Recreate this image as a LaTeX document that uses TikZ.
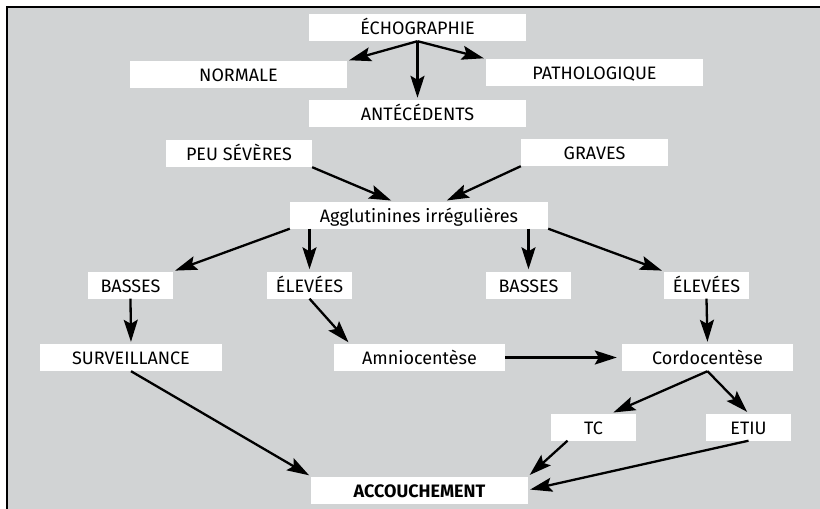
\documentclass[tikz,border=0pt]{standalone}
\usepackage{fontspec}
\setmainfont{Fira Sans}
\usepackage{tikz}
\usetikzlibrary{arrows.meta}
\definecolor{fondgris}{RGB}{209,211,212}

\begin{document}
\begin{tikzpicture}[x=1pt, y=-1pt,
  boite/.style={fill=white, inner sep=0pt, minimum height=27pt, text height=14pt, text depth=0pt, font=\fontsize{18}{20}\selectfont},
  fleche/.style={line width=2.3pt, shorten >=2pt, -{Stealth[length=22pt, width=14pt, inset=4pt]}}]
\useasboundingbox (0,0) rectangle (820,509);
\fill[fondgris] (7,7) rectangle (820,509);
\draw[line width=2pt] (7,509) -- (7,7) -- (820,7);

\node[boite, minimum width=217pt] (echo) at (417.5,27.5) {ÉCHOGRAPHIE};
\node[boite, minimum width=217pt] (normale) at (238.5,74.5) {NORMALE};
\node[boite, minimum width=217pt] (patho) at (594.5,72.5) {PATHOLOGIQUE};
\node[boite, minimum width=217pt] (ante) at (417.5,113.5) {ANTÉCÉDENTS};
\node[boite, minimum width=146pt] (peu) at (239,153.5) {PEU SÉVÈRES};
\node[boite, minimum width=147pt] (graves) at (594.5,152.5) {GRAVES};
\node[boite, minimum width=258pt] (agglut) at (419,215) {Agglutinines irrégulières};
\node[boite, minimum width=85pt] (basses1) at (130.5,285) {BASSES};
\node[boite, minimum width=85pt] (elev1) at (309.5,285) {ÉLEVÉES};
\node[boite, minimum width=85pt] (basses2) at (528.5,285) {BASSES};
\node[boite, minimum width=85pt] (elev2) at (706.5,285) {ÉLEVÉES};
\node[boite, minimum width=182pt] (surv) at (131,357.5) {SURVEILLANCE};
\node[boite, minimum width=171pt] (amnio) at (419.5,357.5) {Amniocentèse};
\node[boite, minimum width=171pt] (cordo) at (707.5,357.5) {Cordocentèse};
\node[boite, minimum width=85pt] (tc) at (593.5,427) {TC};
\node[boite, minimum width=85pt] (etiu) at (748.5,427) {ETIU};
\node[boite, minimum width=217pt] (accouch) at (419.5,490) {\bfseries ACCOUCHEMENT};

\draw[fleche] (echo.south) -- (normale.north east);
\draw[fleche] (echo.south) -- (patho.north west);
\draw[fleche] (echo.south) -- (ante.north);
\draw[fleche] (peu.south east) -- ([xshift=-26pt]agglut.north);
\draw[fleche] (graves.south west) -- ([xshift=26pt]agglut.north);
\draw[fleche] (agglut.south west) -- (basses1.north east);
\draw[fleche] (agglut.south -| elev1) -- (elev1.north);
\draw[fleche] (agglut.south -| basses2) -- (basses2.north);
\draw[fleche] (agglut.south east) -- (elev2.north west);
\draw[fleche] (basses1.south) -- (surv.north);
\draw[fleche] (elev1.south) -- ([xshift=16pt]amnio.north west);
\draw[fleche] (elev2.south) -- (cordo.north);
\draw[fleche, shorten >=5pt] (amnio.east) -- (cordo.west);
\draw[fleche] (cordo.south) -- ([xshift=18pt]tc.north);
\draw[fleche] (cordo.south) -- (etiu.north);
\draw[fleche] (surv.south) -- (accouch.north west);
\draw[fleche] ([xshift=-26pt]tc.south) -- (accouch.north east);
\draw[fleche] (etiu.south) -- (accouch.east);
\end{tikzpicture}
\end{document}
